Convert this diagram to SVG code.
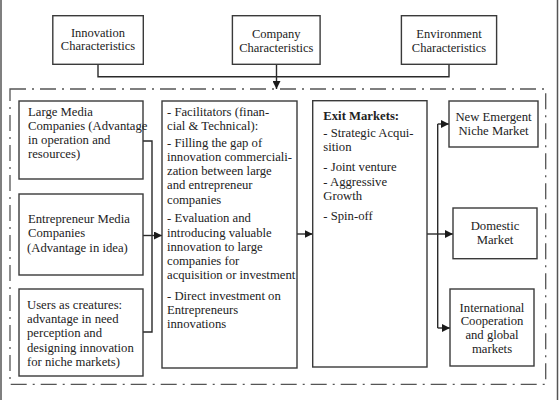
<svg xmlns="http://www.w3.org/2000/svg" width="559" height="400" viewBox="0 0 559 400">
<defs>
<style>
.box{fill:#fff;stroke:#3a3a3a;stroke-width:1.4}
.ln{fill:none;stroke:#2a2a2a;stroke-width:1.4}
.dash{fill:none;stroke:#555;stroke-width:1.3;stroke-dasharray:16 6 2 6}
.frame{stroke:#555;stroke-width:1.5}
text{font-family:"Liberation Serif","Times New Roman",serif;font-size:12.7px;fill:#222}
.c{text-anchor:middle}
.t{font-size:12.5px}
.b{font-weight:bold}
</style>
<marker id="ah" viewBox="0 0 10 10" refX="10" refY="5" markerWidth="8" markerHeight="8" markerUnits="userSpaceOnUse" orient="auto">
<path d="M0,0 L10,5 L0,10 Z" fill="#1a1a1a"/>
</marker>
</defs>
<rect width="559" height="400" fill="#fff"/>
<line class="frame" x1="1" y1="0" x2="1" y2="400"/>
<line class="frame" x1="557.5" y1="0" x2="557.5" y2="400"/>
<rect class="dash" x="10" y="89" width="535.7" height="295.3"/>

<g id="connectors">
<path class="ln" d="M98,64.3 V76.7 H449 V64.3"/>
<path class="ln" d="M276.5,64.3 V89" marker-end="url(#ah)"/>
<path class="ln" d="M143,141 H152 V332 H143"/>
<path class="ln" d="M143,235.5 H162" marker-end="url(#ah)"/>
<path class="ln" d="M297,234 H312.7" marker-end="url(#ah)"/>
<path class="ln" d="M427,234 H453" marker-end="url(#ah)"/>
<path class="ln" d="M437.7,124 V328"/>
<path class="ln" d="M437.7,124 H449" marker-end="url(#ah)"/>
<path class="ln" d="M437.7,328 H450" marker-end="url(#ah)"/>
</g>

<g id="innovation">
<rect class="box" x="52.8" y="15.7" width="90.5" height="48.6"/>
<text class="c t" x="98" y="36.7">Innovation</text>
<text class="c t" x="98" y="50.3">Characteristics</text>
</g>
<g id="company">
<rect class="box" x="232.4" y="15.7" width="87.7" height="48.6"/>
<text class="c t" x="276.3" y="37.7">Company</text>
<text class="c t" x="276.3" y="51.7">Characteristics</text>
</g>
<g id="environment">
<rect class="box" x="401.4" y="15.7" width="95.2" height="48.6"/>
<text class="c t" x="449" y="37.7">Environment</text>
<text class="c t" x="449" y="51.7">Characteristics</text>
</g>

<g id="large-media">
<rect class="box" x="19" y="101" width="124" height="78"/>
<text x="28" y="116">Large Media</text>
<text x="28" y="130">Companies (Advantage</text>
<text x="28" y="144">in operation and</text>
<text x="28" y="157.5">resources)</text>
</g>
<g id="entrepreneur">
<rect class="box" x="19" y="194" width="124" height="81"/>
<text x="28" y="223.3">Entrepreneur Media</text>
<text x="28" y="237.3">Companies</text>
<text x="27" y="251.7">(Advantage in idea)</text>
</g>
<g id="users">
<rect class="box" x="19" y="289" width="124" height="87"/>
<text x="27" y="309">Users as creatures:</text>
<text x="27" y="323.3">advantage in need</text>
<text x="27" y="337.3">perception and</text>
<text x="27" y="351.7">designing innovation</text>
<text x="27" y="365.5">for niche markets)</text>
</g>

<g id="facilitators">
<rect class="box" x="162" y="101" width="135" height="267"/>
<text x="167" y="115.7">- Facilitators (finan-</text>
<text x="167" y="129.5">cial &amp; Technical):</text>
<text x="167" y="146.7">- Filling the gap of</text>
<text x="167" y="161">innovation commerciali-</text>
<text x="167" y="175">zation between large</text>
<text x="167" y="189.2">and entrepreneur</text>
<text x="167" y="203.5">companies</text>
<text x="167" y="221.7">- Evaluation and</text>
<text x="167" y="236.5">introducing valuable</text>
<text x="167" y="250.7">innovation to large</text>
<text x="167" y="265">companies for</text>
<text x="167" y="278.5">acquisition or investment</text>
<text x="167" y="300">- Direct investment on</text>
<text x="167" y="314">Entrepreneurs</text>
<text x="167" y="328.3">innovations</text>
</g>

<g id="exit-markets">
<rect class="box" x="312.7" y="100.7" width="114.3" height="266.3"/>
<text class="b" x="323.3" y="120">Exit Markets:</text>
<text x="323.3" y="136.7">- Strategic Acqui-</text>
<text x="323.3" y="150.7">sition</text>
<text x="323.3" y="171">- Joint venture</text>
<text x="323.3" y="185.7">- Aggressive</text>
<text x="323.3" y="200">Growth</text>
<text x="323.3" y="220">- Spin-off</text>
</g>

<g id="new-emergent">
<rect class="box" x="449" y="101" width="89" height="46"/>
<text class="c" x="493.5" y="120.7">New Emergent</text>
<text class="c" x="493.5" y="135">Niche Market</text>
</g>
<g id="domestic">
<rect class="box" x="453" y="208" width="84" height="50.7"/>
<text class="c" x="495" y="230">Domestic</text>
<text class="c" x="495" y="244">Market</text>
</g>
<g id="international">
<rect class="box" x="450" y="289" width="84" height="77"/>
<text class="c" x="492" y="311.5">International</text>
<text class="c" x="492" y="325">Cooperation</text>
<text class="c" x="492" y="339">and global</text>
<text class="c" x="492" y="353">markets</text>
</g>
</svg>
